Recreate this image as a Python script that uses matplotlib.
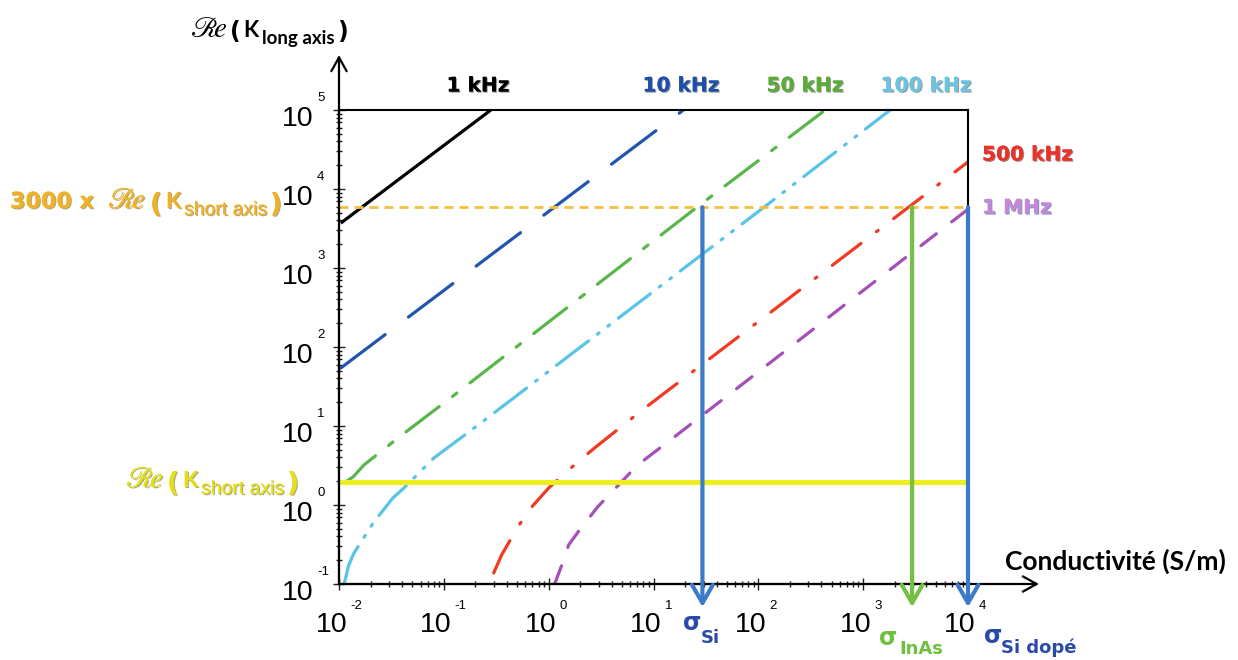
import matplotlib
matplotlib.use("Agg")
import matplotlib.pyplot as plt
import matplotlib.patheffects as pe
from matplotlib.transforms import offset_copy
import numpy as np

# ---------------- data ----------------
sigma_1k = [0.0104, 0.281]
K_1k = [3.7e3, 1.0e5]

sigma_10k = [0.0104, 19.3]
K_10k = [54.2, 1.0e5]

sigma_50k = [0.0112, 0.0136, 0.0173, 0.0365, 0.109, 26.9, 435.0]
K_50k = [1.90, 2.26, 3.21, 7.05, 21.3, 6100.0, 1.0e5]

sigma_100k = [0.0112, 0.0124, 0.0139, 0.0215, 0.0327, 0.0416, 0.0804, 0.225, 114.0, 1810.0]
K_100k = [0.10, 0.174, 0.247, 0.610, 1.23, 1.64, 3.94, 10.9, 5920.0, 1.0e5]

sigma_500k = [0.299, 0.356, 0.507, 0.689, 1.0, 1.89, 2.81, 8.04, 1.0e4]
K_500k = [0.138, 0.233, 0.527, 0.944, 1.64, 3.50, 5.42, 16.4, 2.2e4]

sigma_1M = [1.14, 1.36, 1.55, 1.97, 2.93, 7.05, 14.5, 9770.0]
K_1M = [0.10, 0.185, 0.312, 0.483, 0.944, 3.21, 6.65, 5420.0]

freq_labels = ['1 kHz', '10 kHz', '50 kHz', '100 kHz', '500 kHz', '1 MHz']

K_short = 1.96                 # Re(K short axis)
K_threshold = 3000 * K_short   # 3000 x Re(K short axis)

sigma_Si = 29.3
sigma_InAs = 2930.0
sigma_Si_dope = 1.0e4
arrow_tip_K = 0.051

x_ticks = [1e-2, 1e-1, 1e0, 1e1, 1e2, 1e3, 1e4]
x_exps = ['-2', '-1', '0', '1', '2', '3', '4']
y_ticks = [1e-1, 1e0, 1e1, 1e2, 1e3, 1e4, 1e5]
y_exps = ['-1', '0', '1', '2', '3', '4', '5']

# ---------------- figure ----------------
W, H = 1238, 660
fig = plt.figure(figsize=(W / 100, H / 100), dpi=100)
plt.rcParams['lines.scale_dashes'] = False

L, R, T, B = 339, 968, 110, 584
ax = fig.add_axes([L / W, 1 - B / H, (R - L) / W, (B - T) / H])
ax.set_xscale('log')
ax.set_yscale('log')
ax.set_xlim(1e-2, 1e4)
ax.set_ylim(1e-1, 1e5)

for s in ax.spines.values():
    s.set_linewidth(1.5)
    s.set_color('black')

ax.tick_params(axis='both', which='both', labelbottom=False, labelleft=False,
               direction='inout', width=1.0, color='#222222')
ax.tick_params(axis='both', which='major', length=8)
ax.tick_params(axis='both', which='minor', length=5)
ax.set_xticks(x_ticks)
ax.set_yticks(y_ticks)
ax.xaxis.set_minor_locator(matplotlib.ticker.LogLocator(base=10, subs=np.arange(2, 10)))
ax.yaxis.set_minor_locator(matplotlib.ticker.LogLocator(base=10, subs=np.arange(2, 10)))
ax.xaxis.set_minor_formatter(matplotlib.ticker.NullFormatter())
ax.yaxis.set_minor_formatter(matplotlib.ticker.NullFormatter())

lw = 2.3
c_black, c_blue, c_green, c_cyan, c_red, c_purple = '#000000', '#2155b0', '#5ab64a', '#58c4e6', '#f03a24', '#a54fb8'

ax.plot(sigma_1k, K_1k, color=c_black, lw=lw, solid_capstyle='butt')
ax.plot(sigma_10k, K_10k, color=c_blue, lw=lw, dashes=(40, 21), dash_capstyle='round')
ax.plot(sigma_50k, K_50k, color=c_green, lw=lw, dashes=(30, 12, 4, 12), dash_capstyle='round')
ax.plot(sigma_100k, K_100k, color=c_cyan, lw=lw, dashes=(29, 8, 1.5, 8, 1.5, 8), dash_capstyle='round')
ax.plot(sigma_500k, K_500k, color=c_red, lw=lw, dashes=(26, 14, 1.5, 14), dash_capstyle='round')
ax.plot(sigma_1M, K_1M, color=c_purple, lw=lw, dashes=(14, 14), dash_capstyle='round')

# reference levels
ax.axhline(K_short, color='#eeee1c', lw=3.6, zorder=3)
ax.axhline(K_threshold, color='#f8c13c', lw=2.0, dashes=(6.5, 4.3), zorder=3)

# vertical arrows
arrow_blue, arrow_green = '#3a7ac8', '#74c043'
for sx, col in [(sigma_Si, arrow_blue), (sigma_InAs, arrow_green), (sigma_Si_dope, arrow_blue)]:
    ax.annotate('', xy=(sx, arrow_tip_K), xytext=(sx, K_threshold),
                arrowprops=dict(arrowstyle='->,head_length=1.3,head_width=0.75',
                                color=col, lw=3.0, shrinkA=0, shrinkB=0),
                annotation_clip=False, zorder=6)

# axis arrows
ax.annotate('', xy=(0, (B - 55) / (B - T)), xytext=(0, 0), xycoords='axes fraction',
            arrowprops=dict(arrowstyle='->,head_length=1.0,head_width=0.55', color='black',
                            lw=1.6, shrinkA=0, shrinkB=0), annotation_clip=False)
ax.annotate('', xy=((1039 - L) / (R - L), 0), xytext=(0, 0), xycoords='axes fraction',
            arrowprops=dict(arrowstyle='->,head_length=1.0,head_width=0.55', color='black',
                            lw=1.6, shrinkA=0, shrinkB=0), annotation_clip=False)

# tick labels
tick_font = 'Liberation Sans'
for t, e in zip(x_ticks, x_exps):
    ax.text(t, 0, '10', transform=offset_copy(ax.get_xaxis_transform(), fig, x=8, y=-(625 - B), units='dots'),
            ha='right', va='center', fontsize=20.5, family=tick_font)
    ax.text(t, 0, e, transform=offset_copy(ax.get_xaxis_transform(), fig, x=11, y=-(606 - B), units='dots'),
            ha='left', va='center', fontsize=9.5, family=tick_font)
for t, e in zip(y_ticks, y_exps):
    ax.text(0, t, '10', transform=offset_copy(ax.get_yaxis_transform(), fig, x=-26, y=-9, units='dots'),
            ha='right', va='center', fontsize=20.5, family=tick_font)
    ax.text(0, t, e, transform=offset_copy(ax.get_yaxis_transform(), fig, x=-22, y=12, units='dots'),
            ha='left', va='center', fontsize=9.5, family=tick_font)


def ftext(x, y, s, **kw):
    return fig.text(x / W, 1 - y / H, s, **kw)


def shadow(col):
    return [pe.withSimplePatchShadow(offset=(0.8, -0.8), shadow_rgbFace=col, alpha=0.6), pe.Normal()]


# frequency labels
flab_pos = [(478, 86), (681, 86), (805, 86), (926, 86)]
flab_col = ['#000000', '#1f4fa8', '#5aac3a', '#6cc4e0']
for (x, y), s, c in zip(flab_pos, freq_labels[:4], flab_col):
    ftext(x, y, s, ha='center', va='center', fontsize=14.5, fontweight='bold',
          family='DejaVu Sans', color=c, path_effects=shadow('#555555'))
ftext(982, 155, freq_labels[4], ha='left', va='center', fontsize=14.5, fontweight='bold',
      family='DejaVu Sans', color='#e8332a', path_effects=shadow('#7a2020'))
ftext(982, 208, freq_labels[5], ha='left', va='center', fontsize=14.5, fontweight='bold',
      family='DejaVu Sans', color='#c488d4', path_effects=shadow('#3050a0'))


def re_label(x0, base, xs, color, sub, paren_size, paren_base, sub_family='Liberation Sans',
             sub_weight='normal', sub_size=13, eff=None):
    # xs: positions of '(', 'K', subscript, ')'
    ftext(x0, base, r'$\mathscr{R}\!e$', ha='left', va='baseline', fontsize=21,
          math_fontfamily='stix', color=color, path_effects=eff)
    ftext(xs[0], paren_base, '(', ha='left', va='baseline', fontsize=paren_size,
          family='DejaVu Sans', fontweight='bold', color=color, path_effects=eff)
    ftext(xs[1], base, 'K', ha='left', va='baseline', fontsize=16, family='Lato',
          fontweight='bold', color=color, path_effects=eff)
    ftext(xs[2], base + 7, sub, ha='left', va='baseline', fontsize=sub_size, family=sub_family,
          fontweight=sub_weight, color=color, path_effects=eff)
    ftext(xs[3], paren_base, ')', ha='left', va='baseline', fontsize=paren_size,
          family='DejaVu Sans', fontweight='bold', color=color, path_effects=eff)


# y axis title
re_label(190, 37, [230, 243, 262, 337], 'black', 'long axis', 17, 39, sub_family='Lato',
         sub_weight='bold', sub_size=13.5)

# orange label
orange_txt = '#eeb22a'
ftext(10, 208, '3000 x', ha='left', va='baseline', fontsize=16, fontweight='bold',
      family='DejaVu Sans', color=orange_txt, path_effects=shadow('#8a6a10'))
re_label(108, 208, [150, 166, 184, 270], orange_txt, 'short axis', 19, 212, sub_size=14,
         eff=shadow('#8a6a10'))

# yellow label
re_label(126, 487, [167, 183, 201, 287], '#e2df1e', 'short axis', 19, 491, sub_size=14,
         eff=shadow('#707010'))

# conductivity axis label
ftext(1005, 570, 'Conductivité (S/m)', ha='left', va='baseline', fontsize=19,
      family='Lato', fontweight='bold', color='black')

# sigma labels
sig_blue = '#2a4aa8'
ftext(683, 630, 'σ', ha='left', va='baseline', fontsize=17, fontweight='bold',
      family='DejaVu Sans', color=sig_blue)
ftext(701, 643, 'Si', ha='left', va='baseline', fontsize=13, fontweight='bold',
      family='DejaVu Sans', color=sig_blue)
ftext(879, 645, 'σ', ha='left', va='baseline', fontsize=17, fontweight='bold',
      family='DejaVu Sans', color='#70c040')
ftext(899, 654, 'InAs', ha='left', va='baseline', fontsize=13, fontweight='bold',
      family='DejaVu Sans', color='#70c040')
ftext(984, 643, 'σ', ha='left', va='baseline', fontsize=17, fontweight='bold',
      family='DejaVu Sans', color=sig_blue)
ftext(1001, 653, 'Si dopé', ha='left', va='baseline', fontsize=13, fontweight='bold',
      family='DejaVu Sans', color=sig_blue)

fig.savefig('out.png', dpi=100)
